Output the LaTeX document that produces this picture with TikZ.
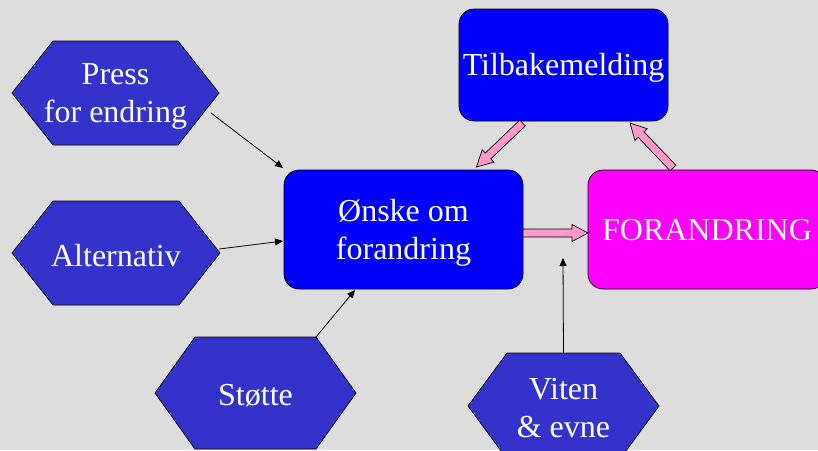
\documentclass[tikz,border=0pt]{standalone}
\usepackage{fontspec}
\setmainfont{Liberation Serif}
\newfontfamily\tnr{Liberation Serif}
\usetikzlibrary{calc,arrows.meta}
\pgfdeclarelayer{bg}
\pgfsetlayers{bg,main}
\definecolor{bggray}{HTML}{DDDDDD}
\definecolor{hexblue}{HTML}{3333CC}
\definecolor{boxblue}{HTML}{0000FF}
\definecolor{boxmag}{HTML}{FF00FF}
\definecolor{arrpink}{HTML}{FF99CC}
\tikzset{
  txt/.style={text=white, align=center, font=\tnr\fontsize{32}{38}\selectfont, inner sep=0pt, outer sep=0pt, yshift=-3pt},
  shp/.style={inner sep=0pt, outer sep=0pt},
  hexnode/.style={shp, minimum width=#1},
  hexfill/.style={fill=hexblue, draw=black, line width=0.7pt},
  boxnode/.style={shp, draw=black, line width=0.7pt, rounded corners=15pt, fill=boxblue},
  conn/.style={draw=black, line width=0.8pt, -{Triangle[length=8pt,width=7pt]}},
  pinkarr/.style={fill=arrpink, draw=black, line width=0.7pt, line join=miter}
}
\newcommand\hexshape[2]{%
  \begin{pgfonlayer}{bg}
  \path[hexfill] (#1.west) -- ([xshift=#2pt]#1.north west) -- ([xshift=-#2pt]#1.north east)
    -- (#1.east) -- ([xshift=-#2pt]#1.south east) -- ([xshift=#2pt]#1.south west) -- cycle;
  \end{pgfonlayer}}
\newcommand\blockarr[2]{%
  \path[pinkarr] let \p1=(#1), \p2=(#2),
    \n1={atan2(\y2-\y1,\x2-\x1)}, \n2={veclen(\x2-\x1,\y2-\y1)} in
    [shift={(\p1)}, rotate=\n1]
    (0pt,-4pt) -- (\n2-16pt,-4pt) -- (\n2-16pt,-8.5pt) -- (\n2,0pt)
    -- (\n2-16pt,8.5pt) -- (\n2-16pt,4pt) -- (0pt,4pt) -- cycle;}
\begin{document}
\begin{tikzpicture}[x=1pt,y=-1pt]
\useasboundingbox (0,0) rectangle (818,450);
\begin{pgfonlayer}{bg}
\fill[bggray] (0,0) rectangle (818,450);
\end{pgfonlayer}
% hexagons
\node[hexnode=207, minimum height=104, label={[txt]center:Press\\for endring}] (press) at (115.5,93) {};
\hexshape{press}{41}
\node[hexnode=208, minimum height=104, label={[txt]center:Alternativ}] (alt) at (116,253) {};
\hexshape{alt}{41}
\node[hexnode=201, minimum height=112, label={[txt]center:Støtte}] (stotte) at (255.5,393) {};
\hexshape{stotte}{40}
\node[hexnode=191, minimum height=106, label={[txt, yshift=1pt]center:Viten\\\&\ evne}] (viten) at (563.5,406) {};
\hexshape{viten}{39}
% boxes
\node[boxnode, minimum width=239, minimum height=119, label={[txt]center:Ønske om\\forandring}] (onske) at (403.5,229.5) {};
\node[boxnode, fill=boxmag, minimum width=238, minimum height=119, label={[txt, yshift=2pt]center:FORANDRING}] (fo) at (707,229.5) {};
\node[boxnode, minimum width=209, minimum height=112, label={[txt]center:Tilbakemelding}] (tb) at (563.5,65) {};
% black connectors
\coordinate (vt) at (563,258);
\draw[conn] ($(press.east)+(-8,20)$) -- ($(onske.north west)+(-1,-2)$);
\draw[conn] ($(alt.east)+(-1,-4)$) -- ($(onske.west)+(-1,11.5)$);
\draw[conn] ([xshift=-40pt]stotte.north east) -- ($(onske.south west)+(71,1)$);
\draw[conn] (viten.north) -- (vt);
% pink block arrows
\coordinate (a1) at ($(tb.south)+(-41,2)$);
\coordinate (a2) at ($(onske.north)+(73,-3)$);
\coordinate (b1) at ($(fo.north)+(-34,-2)$);
\coordinate (b2) at ($(tb.south)+(66.5,2)$);
\coordinate (c1) at ($(onske.east)+(0,3.5)$);
\coordinate (c2) at ($(fo.west)+(0,3.5)$);
\blockarr{a1}{a2}
\blockarr{b1}{b2}
\blockarr{c1}{c2}
\end{tikzpicture}
\end{document}
